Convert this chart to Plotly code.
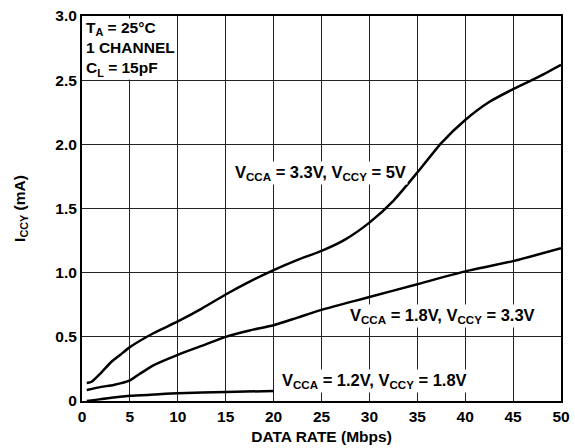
import plotly.graph_objects as go

# Data rate (Mbps) and ICCY (mA)
x_a = [0.5, 1, 2, 3, 4, 5, 7.5, 10, 12.5, 15, 17.5, 20, 22.5, 25, 27.5, 30, 32.5, 35, 37.5, 40, 42.5, 45, 47.5, 50]
y_a = [0.14, 0.15, 0.22, 0.30, 0.36, 0.42, 0.53, 0.62, 0.72, 0.83, 0.93, 1.02, 1.10, 1.17, 1.26, 1.39, 1.56, 1.78, 2.01, 2.19, 2.33, 2.43, 2.52, 2.62]

x_b = [0.5, 2, 3.3, 5, 6, 7.5, 10, 12.5, 15, 17.5, 20, 22.5, 25, 30, 35, 40, 45, 50]
y_b = [0.086, 0.11, 0.125, 0.16, 0.21, 0.28, 0.36, 0.43, 0.50, 0.55, 0.59, 0.65, 0.71, 0.81, 0.91, 1.01, 1.09, 1.19]

x_c = [0.5, 2.5, 5, 7.5, 10, 15, 20]
y_c = [0.0, 0.02, 0.04, 0.05, 0.06, 0.07, 0.078]

x_ticks = [0, 5, 10, 15, 20, 25, 30, 35, 40, 45, 50]
y_ticks = [0, 0.5, 1.0, 1.5, 2.0, 2.5, 3.0]
y_tick_text = ["0", "0.5", "1.0", "1.5", "2.0", "2.5", "3.0"]

FONT = "Liberation Sans, Arial, sans-serif"
FS = 15.5
FS_LBL = 16.5

fig = go.Figure()
for xs, ys in [(x_a, y_a), (x_b, y_b), (x_c, y_c)]:
    fig.add_trace(go.Scatter(x=xs, y=ys, mode="lines",
                             line=dict(color="black", width=2.5, shape="spline", smoothing=0.6),
                             showlegend=False, hoverinfo="skip"))

lbl_style = dict(showarrow=False, bgcolor="white", font=dict(family=FONT, size=FS_LBL, color="black"))
fig.add_annotation(x=24.9, y=1.78, text="<b>V<sub>CCA</sub> = 3.3V, V<sub>CCY</sub> = 5V</b>", **lbl_style)
fig.add_annotation(x=37.6, y=0.66, text="<b>V<sub>CCA</sub> = 1.8V, V<sub>CCY</sub> = 3.3V</b>", **lbl_style)
fig.add_annotation(x=30.5, y=0.155, text="<b>V<sub>CCA</sub> = 1.2V, V<sub>CCY</sub> = 1.8V</b>", **lbl_style)
fig.add_annotation(x=0.3, y=2.985, xanchor="left", yanchor="top", align="left",
                   text="<b>T<sub>A</sub> = 25°C<br>1 CHANNEL<br>C<sub>L</sub> = 15pF</b>",
                   borderpad=0, showarrow=False, bgcolor="white",
                   font=dict(family=FONT, size=FS, color="black"))

axis_common = dict(showgrid=True, gridcolor="#222222", gridwidth=1,
                   showline=True, linecolor="black", linewidth=2, mirror=True,
                   zeroline=False, ticks="", automargin=False,
                   tickfont=dict(family=FONT, size=FS, color="black"))

fig.update_xaxes(range=[0, 50], tickvals=x_ticks, ticktext=[f"<b>{v}</b>" for v in x_ticks],
                 title=dict(text="<b>DATA RATE (Mbps)</b>", font=dict(family=FONT, size=FS, color="black"), standoff=8),
                 **axis_common)
fig.update_yaxes(range=[0, 3.0], tickvals=y_ticks, ticktext=[f"<b>{t}</b>" for t in y_tick_text],
                 title=dict(text="<b>I<sub>CCY</sub> (mA)</b>", font=dict(family=FONT, size=FS, color="black"), standoff=26),
                 **axis_common)

fig.update_layout(width=575, height=448, margin=dict(l=82, r=14, t=16, b=47),
                  plot_bgcolor="white", paper_bgcolor="white",
                  font=dict(family=FONT, color="black"))

fig.write_html("out.html", config={"displayModeBar": False},
               post_script="document.body.style.margin='0px';")
